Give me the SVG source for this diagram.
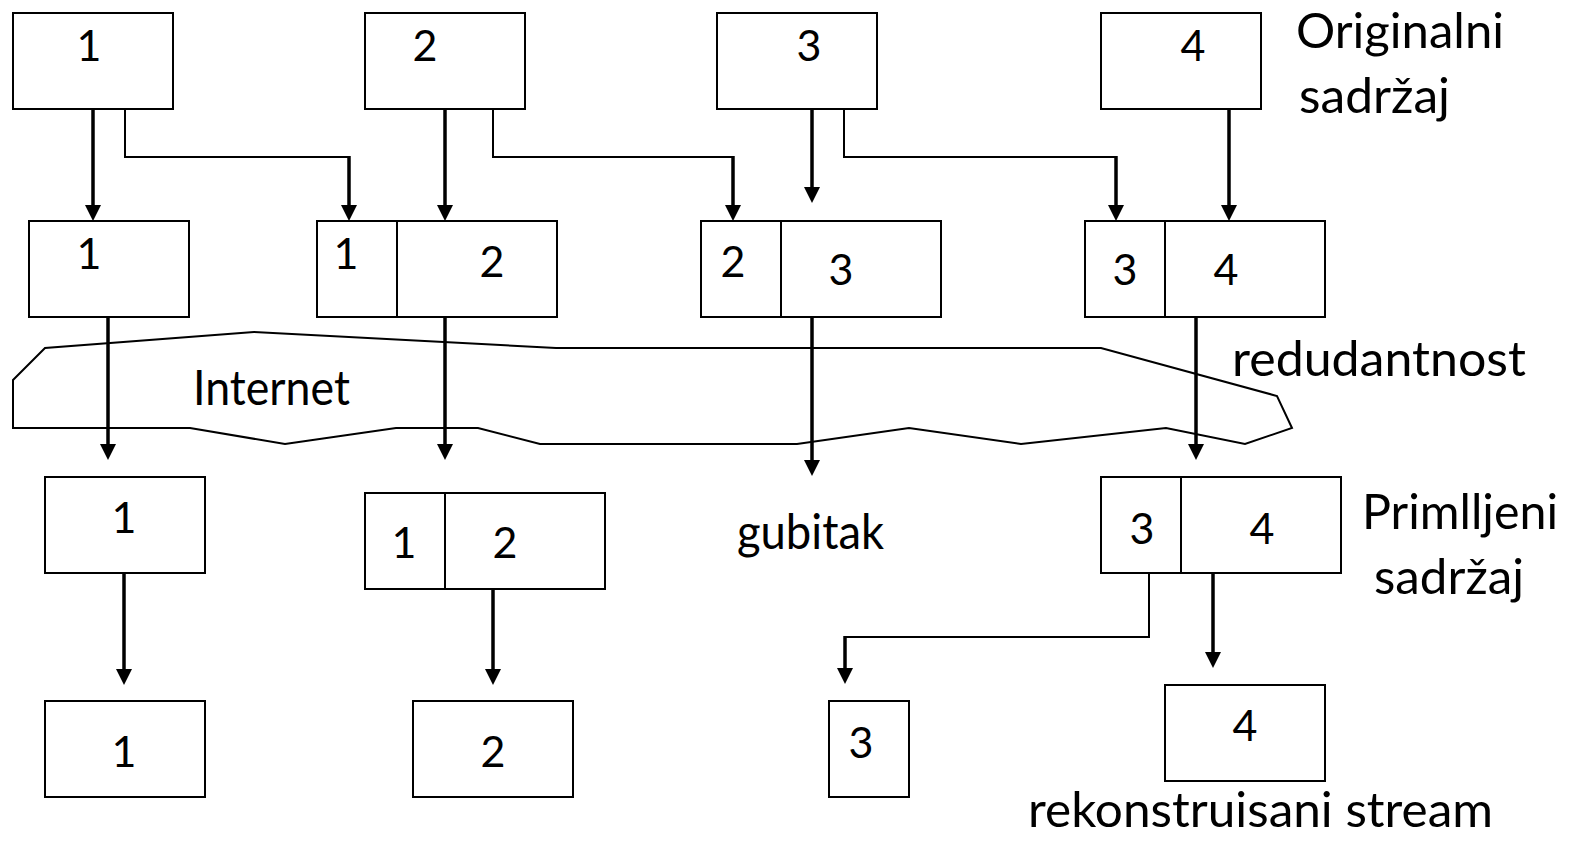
<svg xmlns="http://www.w3.org/2000/svg" width="1581" height="846" viewBox="0 0 1581 846">
<style>
.box{fill:#fff;stroke:#000;stroke-width:2}
.div{stroke:#000;stroke-width:2}
.d{font-family:Lato,"Liberation Sans",sans-serif;font-size:43px;fill:#000;text-anchor:middle}
.l{font-family:Lato,"Liberation Sans",sans-serif;font-size:48px;fill:#000}
.thick{fill:none;stroke:#000;stroke-width:3.5;marker-end:url(#ah)}
.thin{fill:none;stroke:#000;stroke-width:2}
.cloud{fill:none;stroke:#000;stroke-width:2;stroke-linejoin:miter}
</style>
<defs>
<marker id="ah" markerUnits="userSpaceOnUse" markerWidth="16" markerHeight="16" viewBox="0 0 16 16" refX="10" refY="8" orient="auto">
<path d="M0,0 L16,8 L0,16 z" fill="#000"/>
</marker>
</defs>
<rect width="1581" height="846" fill="#fff"/>

<g id="internet">
<polygon class="cloud" points="13,380 45,348 254,332 556,348 1101,348 1277,396 1292,428 1245,444 1166,428 1021,444 909,428 797,444 540,444 478,428 396,428 285,444 190,428 13,428"/>
<text class="l" x="193" y="405" textLength="157" lengthAdjust="spacingAndGlyphs">Internet</text>
</g>

<g id="orig1"><rect class="box" x="13" y="13" width="160" height="96"/><text class="d" x="89" y="61">1</text></g>
<g id="orig2"><rect class="box" x="365" y="13" width="160" height="96"/><text class="d" x="425" y="61">2</text></g>
<g id="orig3"><rect class="box" x="717" y="13" width="160" height="96"/><text class="d" x="809" y="61">3</text></g>
<g id="orig4"><rect class="box" x="1101" y="13" width="160" height="96"/><text class="d" x="1193" y="61">4</text></g>

<g id="sent1"><rect class="box" x="29" y="221" width="160" height="96"/><text class="d" x="89" y="269">1</text></g>
<g id="sent12"><rect class="box" x="317" y="221" width="240" height="96"/><line class="div" x1="397" y1="221" x2="397" y2="317"/><text class="d" x="346" y="269">1</text><text class="d" x="492" y="277">2</text></g>
<g id="sent23"><rect class="box" x="701" y="221" width="240" height="96"/><line class="div" x1="781" y1="221" x2="781" y2="317"/><text class="d" x="733" y="277">2</text><text class="d" x="841" y="285">3</text></g>
<g id="sent34"><rect class="box" x="1085" y="221" width="240" height="96"/><line class="div" x1="1165" y1="221" x2="1165" y2="317"/><text class="d" x="1125" y="285">3</text><text class="d" x="1226" y="285">4</text></g>

<g id="recv1"><rect class="box" x="45" y="477" width="160" height="96"/><text class="d" x="124" y="533">1</text></g>
<g id="recv12"><rect class="box" x="365" y="493" width="240" height="96"/><line class="div" x1="445" y1="493" x2="445" y2="589"/><text class="d" x="404" y="558">1</text><text class="d" x="505" y="558">2</text></g>
<g id="recv34"><rect class="box" x="1101" y="477" width="240" height="96"/><line class="div" x1="1181" y1="477" x2="1181" y2="573"/><text class="d" x="1142" y="544">3</text><text class="d" x="1262" y="544">4</text></g>

<g id="out1"><rect class="box" x="45" y="701" width="160" height="96"/><text class="d" x="124" y="767">1</text></g>
<g id="out2"><rect class="box" x="413" y="701" width="160" height="96"/><text class="d" x="493" y="767">2</text></g>
<g id="out3"><rect class="box" x="829" y="701" width="80" height="96"/><text class="d" x="861" y="758">3</text></g>
<g id="out4"><rect class="box" x="1165" y="685" width="160" height="96"/><text class="d" x="1245" y="741">4</text></g>

<g id="labels">
<text class="l" x="1296" y="48" textLength="208" lengthAdjust="spacingAndGlyphs">Originalni</text>
<text class="l" x="1299" y="113" textLength="151" lengthAdjust="spacingAndGlyphs">sadržaj</text>
<text class="l" x="1232" y="376" textLength="294" lengthAdjust="spacingAndGlyphs">redudantnost</text>
<text class="l" x="737" y="549" textLength="147" lengthAdjust="spacingAndGlyphs">gubitak</text>
<text class="l" x="1362" y="529" textLength="196" lengthAdjust="spacingAndGlyphs">Primlljeni</text>
<text class="l" x="1374" y="594" textLength="150" lengthAdjust="spacingAndGlyphs">sadržaj</text>
<text class="l" x="1028" y="827" textLength="465" lengthAdjust="spacingAndGlyphs">rekonstruisani stream</text>
</g>

<g id="connectors">
<path class="thick" d="M93,109 V215"/>
<path class="thin" d="M125,109 V157 H349"/>
<path class="thick" d="M349,156 V215"/>
<path class="thick" d="M445,109 V215"/>
<path class="thin" d="M493,109 V157 H733"/>
<path class="thick" d="M733,156 V215"/>
<path class="thick" d="M812,109 V197"/>
<path class="thin" d="M844,109 V157 H1116"/>
<path class="thick" d="M1116,156 V215"/>
<path class="thick" d="M1229,109 V215"/>

<path class="thick" d="M108,317 V454"/>
<path class="thick" d="M445,317 V454"/>
<path class="thick" d="M812,317 V470"/>
<path class="thick" d="M1196,317 V454"/>

<path class="thick" d="M124,573 V679"/>
<path class="thick" d="M493,589 V679"/>
<path class="thin" d="M1149,573 V637 H845"/>
<path class="thick" d="M845,636 V678"/>
<path class="thick" d="M1213,573 V662"/>
</g>
</svg>
